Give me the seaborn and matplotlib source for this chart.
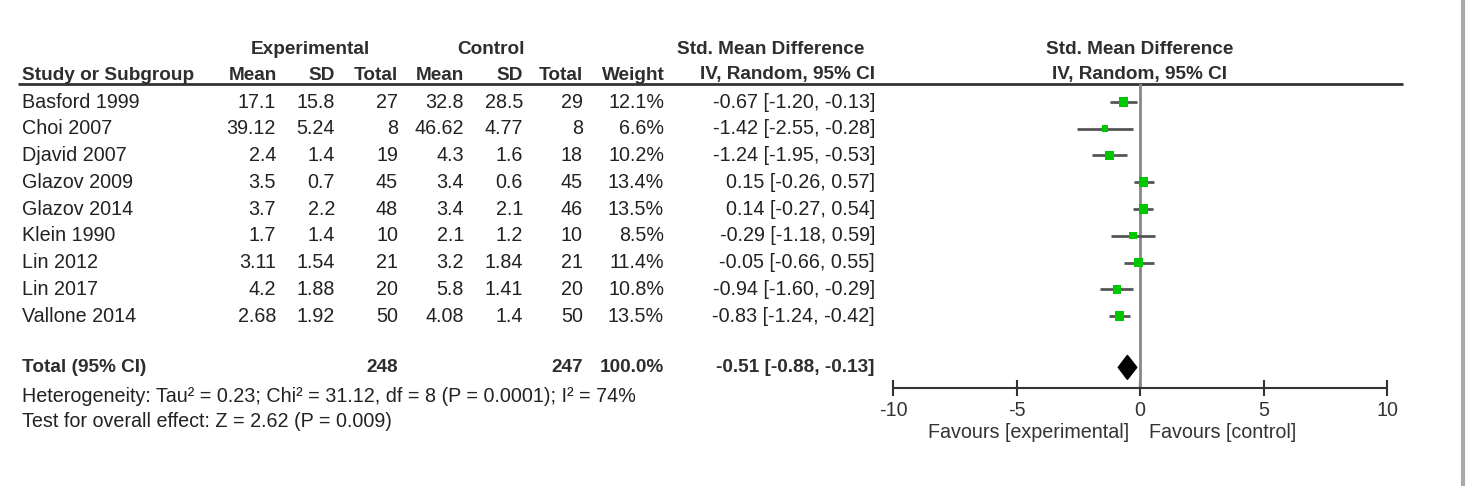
import numpy as np
import pandas as pd
import seaborn as sns
import matplotlib.pyplot as plt

# --- data ---
studies = ["Basford 1999", "Choi 2007", "Djavid 2007", "Glazov 2009", "Glazov 2014",
           "Klein 1990", "Lin 2012", "Lin 2017", "Vallone 2014"]
exp_mean = [17.1, 39.12, 2.4, 3.5, 3.7, 1.7, 3.11, 4.2, 2.68]
exp_sd = [15.8, 5.24, 1.4, 0.7, 2.2, 1.4, 1.54, 1.88, 1.92]
exp_n = [27, 8, 19, 45, 48, 10, 21, 20, 50]
ctl_mean = [32.8, 46.62, 4.3, 3.4, 3.4, 2.1, 3.2, 5.8, 4.08]
ctl_sd = [28.5, 4.77, 1.6, 0.6, 2.1, 1.2, 1.84, 1.41, 1.4]
ctl_n = [29, 8, 18, 45, 46, 10, 21, 20, 50]
weight = [12.1, 6.6, 10.2, 13.4, 13.5, 8.5, 11.4, 10.8, 13.5]
smd = [-0.67, -1.42, -1.24, 0.15, 0.14, -0.29, -0.05, -0.94, -0.83]
ci_lo = [-1.20, -2.55, -1.95, -0.26, -0.27, -1.18, -0.66, -1.60, -1.24]
ci_hi = [-0.13, -0.28, -0.53, 0.57, 0.54, 0.59, 0.55, -0.29, -0.42]

total_smd, total_lo, total_hi = -0.51, -0.88, -0.13
total_weight = 100.0
het_text = "Heterogeneity: Tau² = 0.23; Chi² = 31.12, df = 8 (P = 0.0001); I² = 74%"
effect_text = "Test for overall effect: Z = 2.62 (P = 0.009)"
xticks = [-10, -5, 0, 5, 10]

df = pd.DataFrame({"study": studies, "smd": smd, "lo": ci_lo, "hi": ci_hi,
                   "weight": weight})
df["row"] = np.arange(len(df))
total_row = len(df) + 0.92

sns.set_theme(style="white")
plt.rcParams["font.family"] = ["Liberation Sans", "DejaVu Sans"]

W, H = 1472, 486
fig = plt.figure(figsize=(W / 100, H / 100), dpi=100)

# background axes in pixel units for the table part
bg = fig.add_axes([0, 0, 1, 1])
bg.set_xlim(0, W)
bg.set_ylim(H, 0)
bg.axis("off")

row_y0, row_dy = 102, 26.75
line_y, axis_y = 84, 388
fs = 14.2
fs_bold = 13.7
txt_c = "#222222"
hdr_c = "#2e2e2e"


def ypx(r):
    return row_y0 + row_dy * r


def txt(x, y, s, ha="left", bold=False, color=None):
    bg.text(x, y, s, ha=ha, va="center", fontsize=fs_bold if bold else fs,
            fontweight="bold" if bold else "normal",
            color=color or (hdr_c if bold else txt_c))


# headers
txt(310, 49, "Experimental", ha="center", bold=True)
txt(491, 49, "Control", ha="center", bold=True)
txt(771, 49, "Std. Mean Difference", ha="center", bold=True)
txt(1140, 49, "Std. Mean Difference", ha="center", bold=True)
txt(22, 75, "Study or Subgroup", bold=True)
for lab, x in zip(["Mean", "SD", "Total", "Mean", "SD", "Total", "Weight"],
                  [277, 335, 398, 464, 523, 583, 665]):
    txt(x, 75, lab, ha="right", bold=True)
txt(875, 75, "IV, Random, 95% CI", ha="right", bold=True)
txt(1140, 75, "IV, Random, 95% CI", ha="center", bold=True)
bg.plot([18, 1403], [line_y, line_y], color="#333333", lw=2, solid_capstyle="butt")

# right frame line
bg.plot([1463, 1463], [0, H], color="#aaaaaa", lw=3)

# study rows
for i, s in enumerate(studies):
    y = ypx(i)
    txt(22, y, s)
    txt(276, y, f"{exp_mean[i]}", ha="right")
    txt(335, y, f"{exp_sd[i]}", ha="right")
    txt(398, y, f"{exp_n[i]}", ha="right")
    txt(464, y, f"{ctl_mean[i]}", ha="right")
    txt(523, y, f"{ctl_sd[i]}", ha="right")
    txt(583, y, f"{ctl_n[i]}", ha="right")
    txt(664, y, f"{weight[i]:.1f}%", ha="right")
    txt(875, y, f"{smd[i]:.2f} [{ci_lo[i]:.2f}, {ci_hi[i]:.2f}]", ha="right")

# total row
yt = ypx(total_row)
txt(22, yt, "Total (95% CI)", bold=True)
txt(398, yt, f"{sum(exp_n)}", ha="right", bold=True)
txt(583, yt, f"{sum(ctl_n)}", ha="right", bold=True)
txt(664, yt, f"{total_weight:.1f}%", ha="right", bold=True)
txt(875, yt, f"{total_smd:.2f} [{total_lo:.2f}, {total_hi:.2f}]", ha="right", bold=True)
txt(22, 396, het_text)
txt(22, 421, effect_text)

# forest axes
x0, x1 = 893, 1387
ax = fig.add_axes([x0 / W, 1 - axis_y / H, (x1 - x0) / W, (axis_y - line_y) / H])
ax.set_xlim(xticks[0], xticks[-1])
ax.set_ylim((axis_y - row_y0) / row_dy, (line_y - row_y0) / row_dy)
ax.set_facecolor("none")
for side in ["top", "right", "left"]:
    ax.spines[side].set_visible(False)
ax.spines["bottom"].set_color("#333333")
ax.spines["bottom"].set_linewidth(1.5)
ax.set_yticks([])
ax.set_xticks(xticks)
ax.set_xticklabels([str(t) for t in xticks])
ax.tick_params(axis="x", direction="inout", length=12, width=1.5, color="#333333",
               labelsize=fs, labelcolor="#333333", pad=3, bottom=True)
ax.axvline(0, color="#888888", lw=2, zorder=1)

ax.hlines(df["row"], df["lo"], df["hi"], color="#555555", lw=2, zorder=2)
sns.scatterplot(data=df, x="smd", y="row", size="weight", sizes=(22, 48),
                marker="s", color="#00c800", edgecolor="none", legend=False,
                ax=ax, zorder=3)
h = 0.45
ax.fill([total_lo, total_smd, total_hi, total_smd],
        [total_row, total_row - h, total_row, total_row + h],
        color="black", zorder=3)
ax.set_xlabel("")
ax.set_ylabel("")

txt(1129, 432, "Favours [experimental]", ha="right", color="#333333")
txt(1149, 432, "Favours [control]", color="#333333")

fig.savefig("out.png", dpi=100, facecolor="white")
